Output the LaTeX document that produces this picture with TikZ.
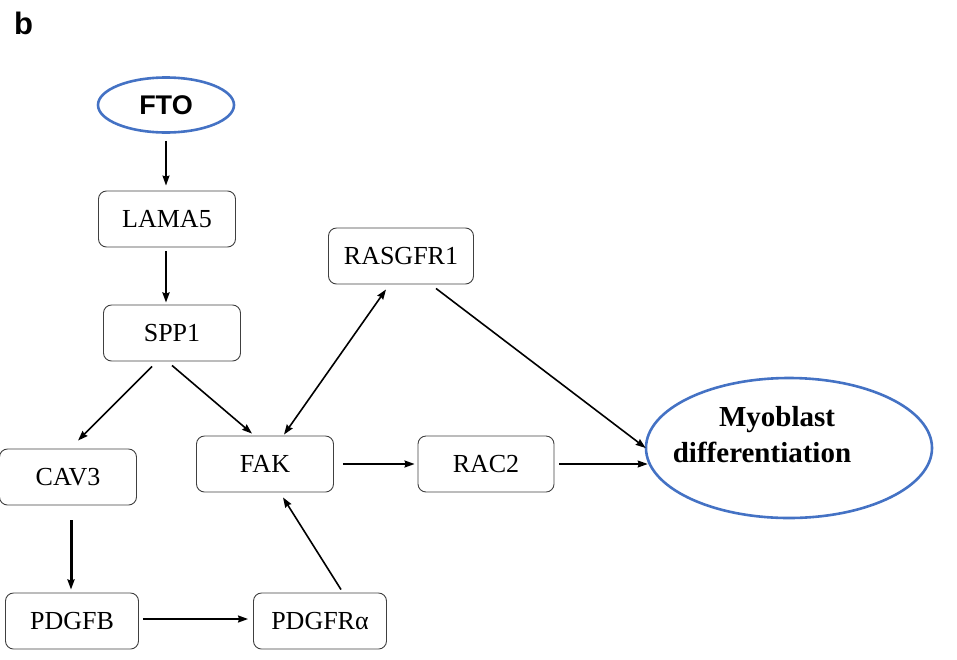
\documentclass[tikz,border=0pt]{standalone}
\usepackage{fontspec}
\setmainfont{Liberation Serif}
\newfontfamily\arialfont{Liberation Sans}
\usetikzlibrary{arrows.meta,shapes.geometric}
\definecolor{ovalblue}{RGB}{68,114,196}
\tikzset{
  genebox/.style={draw=black!75, line width=0.9pt, rounded corners=8pt, minimum width=137pt, minimum height=56pt, inner sep=0pt, font=\fontsize{26}{30}\selectfont},
  oval/.style={ellipse, draw=ovalblue, line width=2.6pt, inner sep=0pt},
  arr/.style={-{Stealth[length=10pt,width=7pt,inset=1pt]}, line width=1.6pt},
  darr/.style={{Stealth[length=10pt,width=7pt,inset=1pt]}-{Stealth[length=10pt,width=7pt,inset=1pt]}, line width=1.6pt}
}
\begin{document}
\begin{tikzpicture}[x=1pt,y=-1pt]
\useasboundingbox (0,0) rectangle (957,659);
\node[anchor=north west, inner sep=0pt, font=\arialfont\bfseries\fontsize{31}{32}\selectfont] (lbl) at (14,12) {b};
\node[oval, minimum width=136pt, minimum height=55pt, font=\arialfont\bfseries\fontsize{27}{30}\selectfont] (fto) at (166,105) {FTO};
\node[genebox] (lama) at (167,219) {LAMA5};
\node[genebox] (spp) at (172,333) {SPP1};
\node[genebox, minimum width=145pt] (ras) at (401,256) {RASGFR1};
\node[genebox] (cav) at (68,477) {CAV3};
\node[genebox] (fak) at (265,464) {FAK};
\node[genebox, minimum width=136pt] (rac) at (486,464) {RAC2};
\node[genebox, minimum width=133pt] (pdgfb) at (72,621) {PDGFB};
\node[genebox, minimum width=133pt] (pdgfra) at (320,621) {PDGFRα};
\node[oval, minimum width=286pt, minimum height=140pt] (myo) at (789,448) {};
\node[font=\bfseries\fontsize{29}{36}\selectfont, align=center, inner sep=0pt] (myotext) at (762,435) {\hspace*{30pt}Myoblast\\differentiation};

\draw[arr, line width=1.4pt] ([yshift=-7pt]fto.south) -- ([yshift=5pt]fto.south |- lama.north);
\draw[arr, line width=2.2pt] ([xshift=-1pt,yshift=-4pt]lama.south) -- ([xshift=-1pt,yshift=2pt]lama.south |- spp.north);
\draw[arr] ([xshift=-20pt,yshift=-5pt]spp.south) -- ([xshift=10pt,yshift=8pt]cav.north);
\draw[arr] ([yshift=-4pt]spp.south) -- ([xshift=-13pt,yshift=2pt]fak.north);
\draw[darr] ([xshift=19pt,yshift=1pt]fak.north) -- ([xshift=-15pt,yshift=-5pt]ras.south);
\draw[arr] ([xshift=35pt,yshift=-4pt]ras.south) -- ([xshift=1pt]myo.west);
\draw[arr] ([xshift=9pt]fak.east) -- ([xshift=-3pt]rac.west);
\draw[arr] ([xshift=5pt]rac.east) -- ([xshift=3pt]rac.east -| myo.west);
\draw[arr, line width=3pt] ([xshift=3pt,yshift=-15pt]cav.south) -- ([xshift=3pt,yshift=3pt]cav.south |- pdgfb.north);
\draw[arr] ([xshift=4pt,yshift=2pt]pdgfb.east) -- ([xshift=-5pt,yshift=2pt]pdgfra.west);
\draw[arr] ([xshift=21pt,yshift=3pt]pdgfra.north) -- ([xshift=18pt,yshift=-5pt]fak.south);
\end{tikzpicture}
\end{document}
